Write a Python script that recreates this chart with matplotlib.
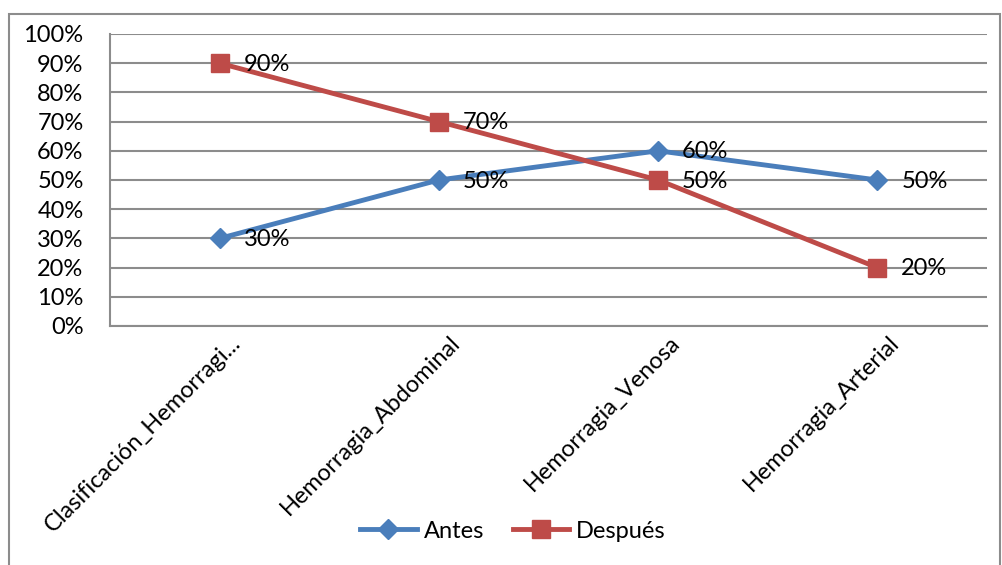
import matplotlib.pyplot as plt
from matplotlib.patches import Rectangle
from matplotlib.ticker import MultipleLocator, PercentFormatter
import matplotlib.transforms as mtransforms

plt.rcParams["font.family"] = ["Lato", "DejaVu Sans"]

categories = [
    "Clasificación_Hemorragi...",
    "Hemorragia_Abdominal",
    "Hemorragia_Venosa",
    "Hemorragia_Arterial",
]
antes = [30, 50, 60, 50]
despues = [90, 70, 50, 20]

blue = "#4a7ebb"
red = "#be4b48"
grid_gray = "#8c8c8c"

fig = plt.figure(figsize=(10.03, 5.65), dpi=100)
W, H = 1003, 565
ax = fig.add_axes([110 / W, 1 - 326 / H, (987 - 110) / W, (326 - 34) / H])

# outer chart frame
fig.patches.append(Rectangle((9 / W, -0.01), (1000 - 9) / W, 1 - 14 / H + 0.01,
                             transform=fig.transFigure, fill=False,
                             edgecolor=grid_gray, linewidth=1.5))

xpos = list(range(len(categories)))
ax.plot(xpos, antes, color=blue, linewidth=3.5, marker="D", markersize=10,
        label="Antes", zorder=3)
ax.plot(xpos, despues, color=red, linewidth=3.5, marker="s", markersize=13,
        label="Después", zorder=3)

offset = mtransforms.offset_copy(ax.transData, fig=fig, x=24, y=-1, units="dots")
for x, a, d in zip(xpos, antes, despues):
    ax.text(x, a, f"{a}%", transform=offset, fontsize=17, va="center", ha="left", zorder=4)
    ax.text(x, d, f"{d}%", transform=offset, fontsize=17, va="center", ha="left", zorder=4)

ax.set_xlim(-0.5, len(categories) - 0.5)
ax.set_ylim(0, 100)
ax.yaxis.set_major_locator(MultipleLocator(10))
ax.yaxis.set_major_formatter(PercentFormatter(decimals=0))
ax.grid(axis="y", color=grid_gray, linewidth=1.5)
ax.set_axisbelow(True)
for side in ("top", "right"):
    ax.spines[side].set_visible(False)
for side in ("left", "bottom"):
    ax.spines[side].set_color(grid_gray)
    ax.spines[side].set_linewidth(1.5)
ax.tick_params(axis="y", length=0, labelsize=17, pad=19)
ax.tick_params(axis="x", length=0, labelsize=17, pad=12)
ax.set_xticks(xpos)
ax.set_xticklabels(categories, rotation=45, ha="right", va="center",
                   rotation_mode="anchor")
shift = mtransforms.ScaledTranslation(18 / 100, 3 / 100, fig.dpi_scale_trans)
for lab in ax.get_xticklabels():
    lab.set_transform(lab.get_transform() + shift)

fig.legend(loc="center", bbox_to_anchor=(513 / W, 1 - 531 / H), ncol=2,
           frameon=False, fontsize=17, handlelength=2.4, columnspacing=1.2,
           handletextpad=0.3)

fig.savefig("out.png", dpi=100)
